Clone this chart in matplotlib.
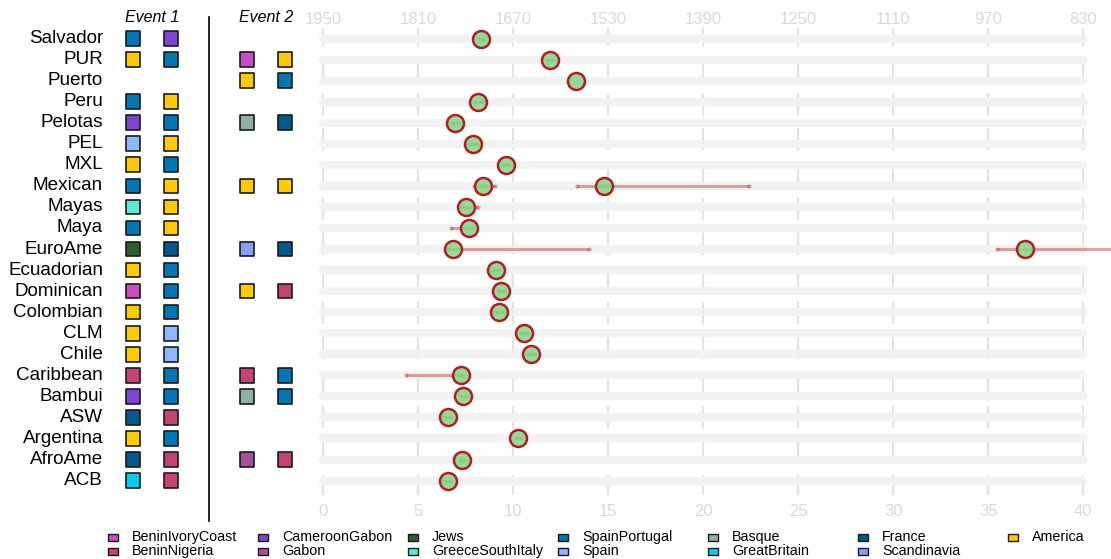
import numpy as np
import matplotlib
matplotlib.use("Agg")
import matplotlib.pyplot as plt
from matplotlib.lines import Line2D
from matplotlib.patches import Rectangle

# ── data ──────────────────────────────────────────────────────────────
populations = ["Salvador", "PUR", "Puerto", "Peru", "Pelotas", "PEL", "MXL",
               "Mexican", "Mayas", "Maya", "EuroAme", "Ecuadorian", "Dominican",
               "Colombian", "CLM", "Chile", "Caribbean", "Bambui", "ASW",
               "Argentina", "AfroAme", "ACB"]

# admixture date (generations) and confidence interval for the first event
gen1 = [8.30, 11.93, 13.30, 8.13, 6.93, 7.88, 9.60, 8.39, 7.53, 7.65, 6.81,
        9.09, 9.35, 9.25, 10.56, 10.93, 7.25, 7.35, 6.55, 10.25, 7.30, 6.55]
lo1 = [8.15, 11.78, np.nan, 7.93, 6.78, 7.68, 9.45, 7.95, 7.25, 6.70, 6.55,
       8.94, 9.20, 9.05, 10.41, 10.78, 4.35, 7.22, 6.38, 10.12, 7.17, 6.38]
hi1 = [8.45, 12.08, np.nan, 8.33, 7.08, 8.08, 9.75, 9.04, 8.16, 7.80, 13.98,
       9.24, 9.50, 9.45, 10.71, 11.08, 7.35, 7.50, 6.72, 10.38, 7.43, 6.72]

# second event (only two populations have a dated second pulse)
gen2 = [np.nan] * 7 + [14.79] + [np.nan] * 2 + [36.93] + [np.nan] * 11
lo2 = [np.nan] * 7 + [13.33] + [np.nan] * 2 + [35.44] + [np.nan] * 11
hi2 = [np.nan] * 7 + [22.42] + [np.nan] * 2 + [44.00] + [np.nan] * 11

# source pairs of each event (None = no event)
event1 = [("SpainPortugal", "CameroonGabon"), ("America", "SpainPortugal"), None,
          ("SpainPortugal", "America"), ("CameroonGabon", "SpainPortugal"),
          ("Spain", "America"), ("America", "SpainPortugal"),
          ("SpainPortugal", "America"), ("GreeceSouthItaly", "America"),
          ("SpainPortugal", "America"), ("Jews", "France"),
          ("America", "SpainPortugal"), ("BeninIvoryCoast", "SpainPortugal"),
          ("America", "SpainPortugal"), ("America", "Spain"), ("America", "Spain"),
          ("BeninNigeria", "SpainPortugal"), ("CameroonGabon", "SpainPortugal"),
          ("France", "BeninNigeria"), ("America", "SpainPortugal"),
          ("France", "BeninNigeria"), ("GreatBritain", "BeninNigeria")]
event2 = [None, ("BeninIvoryCoast", "America"), ("America", "SpainPortugal"), None,
          ("Basque", "France"), None, None, ("America", "America"), None, None,
          ("Scandinavia", "France"), None, ("America", "BeninNigeria"), None, None,
          None, ("BeninNigeria", "SpainPortugal"), ("Basque", "SpainPortugal"),
          None, None, ("Gabon", "BeninNigeria"), None]

source_names = ["BeninIvoryCoast", "BeninNigeria", "CameroonGabon", "Gabon",
                "Jews", "GreeceSouthItaly", "SpainPortugal", "Spain", "Basque",
                "GreatBritain", "France", "Scandinavia", "America"]
source_colors = ["#CC4CC4", "#C44274", "#7B45D2", "#A0529A", "#2E5C2C",
                 "#5EEAD2", "#0276B4", "#8DB7FF", "#8FAEA5", "#12C8EA",
                 "#03588C", "#8D9CF7", "#FFC905"]
COL = dict(zip(source_names, source_colors))

gen_ticks = list(range(0, 41, 5))
year_ticks = [1950, 1810, 1670, 1530, 1390, 1250, 1110, 970, 830]
YEARS_PER_GEN = 28

# ── layout (pixels) ───────────────────────────────────────────────────
W, H = 1111, 559
ROW0, ROWH = 38.5, 21.05
TOP, BOT = 28, 497
n = len(populations)
ylim = ((BOT - ROW0) / ROWH, (TOP - ROW0) / ROWH)

plt.rcParams["font.family"] = ["Liberation Sans", "DejaVu Sans"]
plt.rcParams["lines.scale_dashes"] = False

fig = plt.figure(figsize=(W / 100, H / 100), dpi=100)
fig.patch.set_facecolor("white")


def box(x0, x1):
    return [x0 / W, 1 - BOT / H, (x1 - x0) / W, (BOT - TOP) / H]


ax = fig.add_axes(box(300, W))
ax.set_xlim((300 - 323.3) / 19.0, (W - 323.3) / 19.0)
ax.set_ylim(*ylim)
for s in ax.spines.values():
    s.set_visible(False)

rows = np.arange(n)
ax.vlines(gen_ticks, -0.7, n - 0.3, color="#E3E3E3", lw=1.6, zorder=1,
          linestyles=[(0, (16, 9))])
ax.hlines(rows, 0, 40, color="#F2F2F2", lw=6, capstyle="round", zorder=2)

BAR = (0.70, 0.13, 0.13, 0.40)
for g, lo, hi in [(gen1, lo1, hi1), (gen2, lo2, hi2)]:
    g, lo, hi = np.array(g), np.array(lo), np.array(hi)
    m = ~np.isnan(lo)
    ax.hlines(rows[m], lo[m], hi[m], color=BAR, lw=2.2, zorder=3)
    ax.scatter(np.r_[lo[m], hi[m]], np.r_[rows[m], rows[m]], s=9,
               color=BAR, lw=0, zorder=3)
    k = ~np.isnan(g)
    ax.scatter(g[k], rows[k], s=150, facecolor=(0.52, 0.83, 0.53, 0.85),
               edgecolor="#B01E22", lw=1.8, zorder=4)

ax.set_yticks([])
ax.set_xticks(gen_ticks)
ax.tick_params(axis="x", length=0, pad=5, labelsize=12, labelcolor="#DADADA")

top = ax.secondary_xaxis("top", functions=(lambda g: 1950 - YEARS_PER_GEN * g,
                                           lambda y: (1950 - y) / YEARS_PER_GEN))
top.set_xticks(year_ticks)
top.tick_params(length=0, pad=0.5, labelsize=12, labelcolor="#DADADA")
top.spines["top"].set_visible(False)

# ── left panel: labels and source squares ─────────────────────────────
axl = fig.add_axes(box(0, 300))
axl.set_xlim(0, 300)
axl.set_ylim(*ylim)
axl.axis("off")
for i, name in enumerate(populations):
    axl.text(103, i, name, ha="right", va="center", fontsize=13.6)
for xs, ev in [((133, 171), event1), ((247, 285), event2)]:
    for i, pair in enumerate(ev):
        if pair is None:
            continue
        axl.scatter(xs, [i, i], marker="s", s=112, c=[COL[p] for p in pair],
                    edgecolors="#1A1A1A", linewidths=1.2, zorder=3)

# ── overlay: headers, divider, legend ─────────────────────────────────
ov = fig.add_axes([0, 0, 1, 1])
ov.set_xlim(0, W)
ov.set_ylim(H, 0)
ov.axis("off")
ov.patch.set_alpha(0)
ov.text(152, 17, "Event 1", ha="center", va="center", style="italic", fontsize=11.5)
ov.text(266, 17, "Event 2", ha="center", va="center", style="italic", fontsize=11.5)
ov.add_line(Line2D([209, 209], [17, 521], color="black", lw=1.2))

for i, name in enumerate(source_names):
    cx = 113 + 150 * (i // 2)
    cy = 537 + 14 * (i % 2)
    ov.add_patch(Rectangle((cx - 5, cy - 3.5), 10, 7, facecolor=COL[name],
                           edgecolor="#1A1A1A", lw=1.0))
    ov.text(cx + 19, cy, name, ha="left", va="center", fontsize=10.3)

fig.savefig("out.png", dpi=100, facecolor="white")
